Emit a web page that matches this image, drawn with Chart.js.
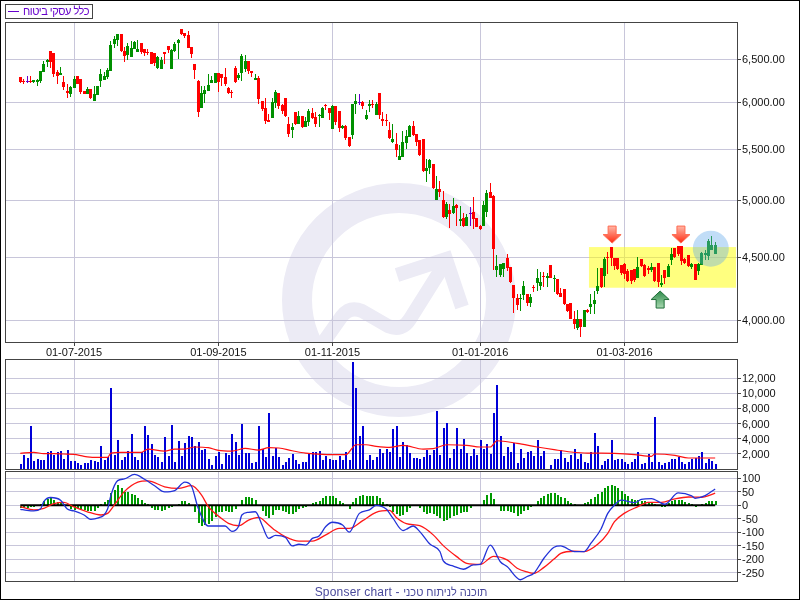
<!DOCTYPE html>
<html>
<head>
<meta charset="utf-8">
<title>chart</title>
<script src="https://cdn.jsdelivr.net/npm/chart.js@4/dist/chart.umd.min.js"></script>
<style>
  html, body { margin: 0; padding: 0; background: #fff; }
  #page { position: relative; width: 800px; height: 600px; box-sizing: border-box; border: 1px solid #000; overflow: hidden; }
  canvas { position: absolute; left: -1px; }
  #legend { position: absolute; left: 4px; top: 3px; width: 86px; height: 13px; border: 1px solid #444; font: 11px "Liberation Sans", sans-serif; letter-spacing: -0.5px; color: #6600cc; line-height: 13px; white-space: nowrap; }
  #legend i { position: absolute; left: 2px; top: 6px; width: 11px; height: 1px; background: #6600cc; }
  #legend span { position: absolute; right: 3px; top: 0; }
  #footer { position: absolute; left: 0; width: 800px; top: 584px; text-align: center; font: 12px "Liberation Sans", sans-serif; color: #4a4a9c; direction: ltr; letter-spacing: 0.2px; }
  #footer span { font-size: 11px; letter-spacing: 0; }
</style>
</head>
<body>
<div id="page">
  <canvas id="main" width="800" height="360" style="top:-1px;width:800px;height:360px"></canvas>
  <canvas id="vol" width="800" height="112" style="top:357px;width:800px;height:112px"></canvas>
  <canvas id="macd" width="800" height="112" style="top:469px;width:800px;height:112px"></canvas>
  <div id="legend"><i></i><span>כלל עסקי ביטוח</span></div>
  <div id="footer">Sponser chart - <span>תוכנה לניתוח טכני</span></div>
</div>
<script>
// x axis
const dateTicks = [17, 60, 94, 138, 181];
const dateLabels = ['01-07-2015', '01-09-2015', '01-11-2015', '01-01-2016', '01-03-2016'];
const priceTicks = [4000, 4500, 5000, 5500, 6000, 6500];
const volTicks = [2000, 4000, 6000, 8000, 10000, 12000];
const macdTicks = [-250, -200, -150, -100, -50, 0, 50, 100];

const opens = [
  6290,6243,6231,6233,6231,6231,6243,6349,6468,6603, 6579,6349,6313,6231,6128,6094,6162,6301,6266,6128,
  6094,6151,6015,6083,6243,6254,6290,6360,6688,6737, 6813,6603,6555,6531,6627,6591,6700,6627,6591,6591,
  6579,6396,6384,6591,6664,6384,6603,6700,6877,6826, 6801,6652,6444,6243,5937,6094,6128,6220,6220,6337,
  6325,6290,6162,6117,6396,6278,6337,6384,6480,6360, 6254,6278,6015,5937,5806,5828,5993,6105,5970,6049,
  5763,5698,5893,5763,5850,5731,5785,5882,5839,5850, 5828,5970,5937,5709,5959,5904,5720,5742,5625,5646,
  5982,5993,6004,5817,5959,5982,5860,6105,5817,5806, 5698,5573,5552,5389,5419,5562,5625,5742,5656,5593,
  5604,5280,5310,5350,5002,5106,5002,4847,4910,4883, 4956,4811,4838,4766,4874,4892,4838,4766,4766,4892,
  5077,5040,4392,4352,4400,4492,4417,4271,4170,4162, 4193,4201,4131,4255,4287,4263,4343,4327,4433,4319,
  4319,4209,4240,4123,4131,4010,3944,4010,3951,4077, 4100,4123,4224,4408,4343,4500,4583,4492,4492,4433,
  4442,4384,4392,4400,4327,4483,4433,4408,4392,4417, 4450,4271,4392,4335,4475,4575,4591,4591,4483,4517,
  4417,4442,4384,4433,4517,4508,4558,4525
];
const highs = [
  6290,6266,6301,6301,6254,6266,6360,6480,6507,6603, 6579,6372,6408,6301,6208,6185,6301,6301,6266,6128,
  6174,6151,6185,6185,6384,6349,6396,6725,6788,6813, 6813,6652,6700,6725,6725,6737,6700,6627,6627,6591,
  6579,6543,6531,6591,6664,6627,6713,6750,6877,6826, 6851,6652,6444,6254,6185,6185,6325,6301,6337,6337,
  6325,6396,6174,6139,6420,6337,6567,6555,6480,6360, 6325,6301,6015,6049,5871,6049,6139,6105,5982,6049,
  5839,5774,5893,5904,5850,5839,5926,5937,5893,5871, 5948,5982,5937,5970,5959,5904,5752,5752,5625,5982,
  6094,6094,6015,5915,6026,6026,6004,6105,5893,5871, 5785,5763,5667,5542,5688,5698,5752,5795,5656,5593,
  5604,5399,5399,5350,5231,5183,5087,4984,4965,5021, 4965,4947,4883,4874,4937,5030,4838,4775,4993,5096,
  5164,5049,4517,4442,4450,4525,4417,4271,4201,4201, 4303,4201,4201,4271,4400,4376,4376,4368,4433,4352,
  4319,4248,4240,4123,4131,4070,4077,4010,4077,4085, 4201,4224,4408,4408,4500,4542,4583,4492,4492,4433,
  4450,4400,4392,4400,4500,4483,4442,4425,4450,4417, 4450,4352,4392,4442,4575,4575,4591,4591,4492,4517,
  4450,4442,4450,4542,4558,4652,4679,4626
];
const lows = [
  6220,6208,6220,6220,6220,6185,6220,6349,6408,6396, 6290,6208,6313,6139,6049,6060,6162,6208,6094,6094,
  6094,6037,6015,6083,6174,6254,6266,6360,6640,6664, 6591,6468,6491,6531,6627,6591,6567,6543,6555,6444,
  6420,6384,6384,6444,6579,6384,6591,6507,6801,6763, 6640,6519,6266,5839,5937,5993,6128,6220,6220,6117,
  6185,6185,6094,6049,6220,6254,6243,6349,6325,6290, 6254,5982,5904,5763,5785,5828,5937,5926,5871,5839,
  5625,5614,5752,5763,5720,5731,5742,5817,5731,5731, 5828,5915,5806,5709,5752,5677,5709,5593,5521,5604,
  5871,5970,5926,5806,5893,5937,5860,5817,5742,5742, 5604,5562,5419,5389,5419,5500,5625,5635,5531,5429,
  5270,5173,5251,5106,5002,5030,4838,4829,4749,4874, 4766,4766,4758,4766,4766,4740,4758,4731,4766,4847,
  5021,4392,4335,4335,4335,4384,4287,4055,4077,4070, 4154,4108,4100,4216,4224,4232,4255,4255,4327,4216,
  4193,4177,4115,4062,4010,3936,3929,3879,3951,4055, 4047,4047,4201,4248,4255,4360,4425,4392,4392,4352,
  4319,4295,4279,4295,4327,4417,4335,4360,4376,4295, 4255,4255,4279,4335,4433,4492,4508,4433,4442,4417,
  4400,4311,4352,4433,4475,4475,4558,4525
];
const closes = [
  6231,6231,6231,6231,6254,6254,6360,6444,6491,6468, 6325,6301,6337,6174,6105,6174,6266,6208,6117,6094,
  6151,6049,6094,6185,6325,6301,6372,6676,6750,6813, 6603,6543,6664,6640,6713,6627,6591,6579,6579,6444,
  6456,6531,6491,6567,6613,6613,6688,6737,6813,6788, 6640,6567,6372,5893,6105,6139,6197,6254,6337,6231,
  6278,6208,6105,6105,6231,6313,6543,6480,6360,6337, 6278,6037,5926,5795,5785,6004,6117,5959,5904,5850,
  5656,5731,5763,5850,5731,5795,5904,5828,5763,5860, 5937,5959,5882,5959,5785,5720,5742,5614,5531,5982,
  6015,5993,5959,5860,5982,5970,5982,5860,5795,5795, 5614,5604,5490,5429,5573,5635,5742,5646,5573,5440,
  5280,5310,5389,5115,5106,5077,4847,4965,4874,4947, 4928,4829,4766,4847,4874,4829,4758,4740,4956,5068,
  5021,4566,4425,4442,4450,4408,4295,4170,4115,4170, 4263,4131,4177,4248,4327,4295,4335,4343,4327,4327,
  4201,4177,4123,4070,4010,3973,4010,3951,4077,4062, 4123,4154,4263,4255,4483,4492,4492,4425,4400,4368,
  4360,4303,4303,4311,4417,4425,4343,4392,4417,4303, 4295,4287,4327,4425,4525,4500,4525,4467,4450,4425,
  4442,4311,4442,4533,4533,4635,4600,4600
];
const volumes = [
  700,1890,1490,5700,1100,1360,1230,1230,2280,2400, 1890,2280,2400,1360,2550,1100,1100,830,570,830,
  830,1230,1100,970,3070,1230,1620,10700,1890,3860, 1230,1620,2400,4650,1620,1230,2280,5700,4520,3340,
  1890,1620,970,4260,1760,5840,970,3730,1760,3470, 4390,4260,3070,3600,2550,2680,1360,570,1760,2280,
  700,2150,1890,4650,3600,1890,5970,2150,2150,830, 970,5700,2680,1620,7420,1760,2810,1620,570,970,
  1490,2020,1230,700,970,970,2020,2280,2280,2400, 1230,1760,1360,1230,1230,1760,1230,2280,1230,14130,
  10700,4390,5700,1230,1890,1230,1620,2680,2150,2680, 2280,5310,5700,1620,3600,3200,2150,1490,1490,1360,
  1620,2550,1890,2550,7680,1890,5440,6100,1490,2680, 5440,2680,3990,2150,1760,2680,1890,3860,2680,3340,
  2020,7420,11100,4390,1760,2940,2280,3470,830,2680, 1490,2280,2400,1760,3860,1760,2400,0,570,1360,
  1360,2550,1490,970,1890,2680,1360,2020,970,830, 2280,4790,3070,570,1100,1360,3860,1230,1360,1360,
  970,700,970,1360,2280,700,830,2020,970,6890, 970,570,830,970,1360,1360,1620,970,700,970,
  1360,1490,1760,2280,830,1360,1100,700
];
const histogram = [
  -9,-9,-11,-6,-5,-1,5,17,25,29, 21,11,12,5,-1,-15,-16,-10,-14,-16,
  -20,-22,-20,-9,5,14,20,46,58,76, 66,51,50,42,40,27,20,10,5,-9,
  -17,-17,-20,-17,-9,-5,0,5,16,16, 9,0,-25,-66,-77,-73,-71,-58,-43,-26,
  -26,-20,-24,-25,-14,0,20,31,31,27, 20,0,-20,-40,-47,-36,-19,-19,-20,-26,
  -32,-31,-24,-14,-11,-7,0,10,11,17, 26,33,33,36,29,17,10,0,-12,12,
  27,35,38,35,36,36,36,26,12,5, -7,-24,-33,-41,-36,-26,-9,-4,-1,-10,
  -24,-31,-27,-33,-40,-46,-57,-53,-48,-41, -36,-30,-26,-24,-9,-1,0,0,20,38,
  46,24,0,-20,-20,-22,-25,-30,-38,-31, -21,-16,-8,0,16,27,35,42,46,47,
  40,31,27,17,9,5,0,0,9,12, 25,31,42,48,65,72,76,72,66,53,
  42,35,24,20,19,17,16,14,12,4, 0,-5,-6,7,16,20,21,20,12,9,
  4,-5,0,4,7,15,16,16
];

// moving average of volume, read at the bars listed in volMaBars
const volMaBars = [1,5,8,11,14,17,20,23,27,28, 31,37,39,44,47,50,53,57,60,64, 68,72,75,78,82,86,91,98,101,104,
  107,111,115,121,124,128,134,138,141,143, 149,155,160,165,170,174,178,184,189,190, 196,200,208];
const volMaValues = [2060,2200,2020,2020,1980,1930,1670,1540,1540,2100, 2200,2200,2630,2370,2630,2630,2900,2810,2460,2370,
  2720,2500,2810,2770,2410,2100,1930,1890,3200,3200, 2990,2850,3120,2630,2680,3200,3120,2900,2900,3730,
  3380,2900,2550,2240,2100,2100,2060,1890,1670,1980, 1800,1450,1450];

const macdBars = [1,3,5,7,8,10,13,15,17,20, 22,24,27,28,30,32,35,38,41,44, 47,50,52,54,57,62,64,66,67,69,
  71,73,75,77,80,82,84,86,88,90, 92,94,97,99,102,105,107,110,112,115, 116,118,120,123,126,127,130,133,136,138,
  141,144,146,150,152,154,156,157,160,162, 163,166,169,171,174,176,178,180,184,186, 189,193,197,201,202,205,208];
const macdValues = [-15,-19,-21,-14,14,29,19,-14,-21,-36, -52,-48,-14,38,92,98,115,97,73,50, 55,86,71,-11,-77,-77,-97,-79,-36,-26,
  -24,-73,-123,-112,-120,-151,-145,-148,-123,-114, -79,-63,-73,-100,-30,-17,0,-14,-48,-94, -89,-77,-98,-144,-172,-207,-226,-238,-222,-220,
  -148,-210,-228,-277,-265,-253,-216,-197,-156,-151, -155,-172,-172,-141,-88,-30,1,19,10,22, 25,4,46,35,26,36,61];

const signalBars = [1,5,8,11,14,17,21,25,27,29, 32,36,39,44,48,52,55,57,60,63, 66,69,72,75,77,80,84,88,92,96,
  99,103,107,111,113,116,120,124,127,131, 134,138,142,146,149,152,154,157,160,162, 166,169,173,176,178,181,185,188,192,196, 200,204,208];
const signalValues = [-5,-17,-11,6,11,-6,-24,-36,-30,1, 51,86,91,69,63,73,38,-5,-40,-67, -76,-55,-45,-73,-94,-117,-133,-133,-110,-86,
  -86,-57,-26,-19,-45,-68,-76,-110,-150,-191, -216,-220,-190,-203,-234,-248,-253,-231,-200,-179,
  -171,-172,-145,-104,-61,-29,-5,11,11,24, 31,30,45];

const barNums = closes.map((c, i) => i + 1);
const toXY = (xs, ys) => xs.map((x, i) => ({ x: x, y: ys[i] }));

Chart.defaults.font.family = '"Liberation Sans", sans-serif';
Chart.defaults.font.size = 11;
Chart.defaults.color = '#111';
Chart.defaults.animation = false;
Chart.defaults.devicePixelRatio = 1;

const gridColor = '#c8c6da';
const frameColor = '#444';
const markColor = '#ecebf5';

// the reference sits on whole pixels, so snap the bars
const snapBars = {
  id: 'snapBars',
  afterDatasetsUpdate(chart) {
    chart.getSortedVisibleDatasetMetas().forEach(meta => {
      if (meta.type !== 'bar') return;
      meta.data.forEach(el => {
        el.x = el.width % 2 === 1 ? Math.floor(el.x) + 0.5 : Math.floor(el.x) + 1;
        el.y = Math.round(el.y);
        el.base = Math.round(el.base);
      });
    });
  }
};

const frame = {
  id: 'frame',
  afterDraw(chart) {
    const a = chart.chartArea, ctx = chart.ctx;
    ctx.save();
    ctx.strokeStyle = frameColor;
    ctx.lineWidth = 1;
    ctx.strokeRect(a.left + 0.5, a.top + 0.5, a.right - a.left, a.bottom - a.top);
    ctx.restore();
  }
};

// logo behind the price and volume panels
function watermark(canvasTop) {
  return {
    id: 'watermark',
    beforeDraw(chart) {
      const a = chart.chartArea, ctx = chart.ctx;
      ctx.save();
      ctx.beginPath();
      ctx.rect(a.left, a.top, a.right - a.left, a.bottom - a.top);
      ctx.clip();
      ctx.translate(0, -canvasTop);
      ctx.strokeStyle = markColor;
      ctx.lineWidth = 30;
      ctx.beginPath();
      ctx.arc(399, 300, 102, 0, Math.PI * 2);
      ctx.stroke();
      ctx.lineWidth = 14;
      ctx.lineJoin = 'miter';
      ctx.beginPath();
      ctx.moveTo(320, 347);
      ctx.lineTo(342, 316);
      ctx.quadraticCurveTo(350, 306, 362, 311);
      ctx.lineTo(388, 326);
      ctx.quadraticCurveTo(402, 332, 410, 319);
      ctx.lineTo(442, 268);
      ctx.stroke();
      ctx.beginPath();
      ctx.moveTo(397, 275);
      ctx.lineTo(446, 259);
      ctx.lineTo(462, 307);
      ctx.stroke();
      ctx.restore();
    }
  };
}

function drawArrow(ctx, x, tip, dir, light, dark, edge) {
  // dir 1 = pointing down, tip at the bottom
  const headEnd = tip - dir * 8.5, tail = tip - dir * 17;
  const g = ctx.createLinearGradient(0, tail, 0, tip);
  g.addColorStop(0, light);
  g.addColorStop(1, dark);
  ctx.fillStyle = g;
  ctx.strokeStyle = edge;
  ctx.lineWidth = 1;
  ctx.beginPath();
  ctx.moveTo(x, tip);
  ctx.lineTo(x + 9, headEnd);
  ctx.lineTo(x + 4, headEnd);
  ctx.lineTo(x + 4, tail);
  ctx.lineTo(x - 4, tail);
  ctx.lineTo(x - 4, headEnd);
  ctx.lineTo(x - 9, headEnd);
  ctx.closePath();
  ctx.fill();
  ctx.stroke();
}

const highlights = {
  id: 'highlights',
  beforeDatasetsDraw(chart) {
    const ctx = chart.ctx, sx = chart.scales.x, sy = chart.scales.y;
    const l = sx.getPixelForValue(170.4), r = sx.getPixelForValue(214.2);
    const t = sy.getPixelForValue(4584), b = sy.getPixelForValue(4250);
    ctx.save();
    ctx.fillStyle = 'rgba(255,255,0,0.5)';
    ctx.fillRect(l, t, r - l, b - t);
    ctx.restore();
  },
  afterDatasetsDraw(chart) {
    const ctx = chart.ctx, sx = chart.scales.x, sy = chart.scales.y;
    ctx.save();
    ctx.fillStyle = 'rgba(100,170,235,0.4)';
    ctx.beginPath();
    ctx.arc(sx.getPixelForValue(206.7), sy.getPixelForValue(4570), 18, 0, Math.PI * 2);
    ctx.fill();
    drawArrow(ctx, sx.getPixelForValue(177.3), sy.getPixelForValue(4618), 1, '#ffb8a8', '#ff2a10', '#ff6a50');
    drawArrow(ctx, sx.getPixelForValue(197.8), sy.getPixelForValue(4618), 1, '#ffb8a8', '#ff2a10', '#ff6a50');
    drawArrow(ctx, sx.getPixelForValue(191.6), sy.getPixelForValue(4224), -1, '#a8d8b0', '#2e8b4a', '#1f6e38');
    ctx.restore();
  }
};

function xAxis(showLabels) {
  return {
    type: 'linear',
    offset: false,
    bounds: 'data',
    min: -3.56,
    max: 214.5,
    grid: { color: gridColor, offset: false, drawTicks: showLabels, tickLength: 4, tickColor: frameColor },
    border: { display: false },
    ticks: {
      display: showLabels,
      autoSkip: false,
      maxRotation: 0,
      padding: 0,
      callback: v => dateLabels[dateTicks.indexOf(v)]
    },
    afterBuildTicks: s => { s.ticks = dateTicks.map(v => ({ value: v })); },
    afterFit: s => { s.height = showLabels ? 18 : 0; s.paddingLeft = 0; s.paddingRight = 0; }
  };
}

function yAxis(type, lo, hi, tickValues, fmt) {
  return {
    type: type,
    position: 'right',
    bounds: 'data',
    min: lo,
    max: hi,
    grid: { color: gridColor, tickLength: 4, tickColor: frameColor },
    border: { display: false },
    ticks: { autoSkip: false, padding: 1, labelOffset: 1, callback: fmt },
    afterBuildTicks: s => { s.ticks = tickValues.map(v => ({ value: v })); },
    // fixed panel box: no room kept for the end labels
    afterFit: s => { s.width = 63; s.paddingTop = 0; s.paddingBottom = 0; }
  };
}

const fmt2 = v => v.toLocaleString('en-US', { minimumFractionDigits: 2, maximumFractionDigits: 2 });
const fmt0 = v => v.toLocaleString('en-US');

function panelOptions(top, bottom, y, showLabels) {
  return {
    responsive: false,
    animation: false,
    layout: { padding: { left: 5, right: 0, top: top, bottom: bottom } },
    plugins: { legend: { display: false }, tooltip: { enabled: false } },
    scales: { x: xAxis(showLabels), y: y }
  };
}

const candleColors = closes.map((c, i) => c > opens[i] ? '#009000' : c < opens[i] ? '#ff0000' : '#6600cc');

new Chart(document.getElementById('main'), {
  type: 'bar',
  data: {
    datasets: [
      {
        label: 'body',
        data: barNums.map((n, i) => ({ x: n, y: [opens[i], closes[i]] })),
        backgroundColor: candleColors,
        barThickness: 3, grouped: false, minBarLength: 1, inflateAmount: 0
      },
      {
        label: 'wick',
        data: barNums.map((n, i) => ({ x: n, y: [lows[i], highs[i]] })),
        backgroundColor: candleColors,
        barThickness: 1, grouped: false, minBarLength: 1, inflateAmount: 0
      }
    ]
  },
  options: panelOptions(22, 0, yAxis('logarithmic', 3842, 6967, priceTicks, fmt2), true),
  plugins: [snapBars, watermark(0), highlights, frame]
});

new Chart(document.getElementById('vol'), {
  type: 'bar',
  data: {
    datasets: [
      {
        type: 'line',
        data: toXY(volMaBars, volMaValues),
        borderColor: '#ff1010', borderWidth: 1.2, pointRadius: 0, cubicInterpolationMode: 'monotone'
      },
      {
        label: 'volume',
        data: toXY(barNums, volumes),
        backgroundColor: '#0000d8',
        barThickness: 2, grouped: false, inflateAmount: 0
      }
    ]
  },
  options: panelOptions(1, 1, yAxis('linear', 0, 14513, volTicks, fmt0), false),
  plugins: [snapBars, watermark(358), frame]
});

new Chart(document.getElementById('macd'), {
  type: 'bar',
  data: {
    datasets: [
      {
        type: 'line',
        data: toXY(macdBars, macdValues),
        borderColor: '#2232d8', borderWidth: 1.3, pointRadius: 0, cubicInterpolationMode: 'monotone'
      },
      {
        type: 'line',
        data: toXY(signalBars, signalValues),
        borderColor: '#ff1818', borderWidth: 1.3, pointRadius: 0, cubicInterpolationMode: 'monotone'
      },
      {
        type: 'line',
        data: [{ x: 1, y: 0 }, { x: 208, y: 0 }],
        borderColor: '#000', borderWidth: 2, pointRadius: 0
      },
      {
        label: 'hist',
        data: toXY(barNums, histogram),
        backgroundColor: '#009900',
        barThickness: 2, grouped: false, inflateAmount: 0
      }
    ]
  },
  options: panelOptions(1, 1, yAxis('linear', -281.7, 127.7, macdTicks, fmt0), false),
  plugins: [snapBars, frame]
});
</script>
</body>
</html>
